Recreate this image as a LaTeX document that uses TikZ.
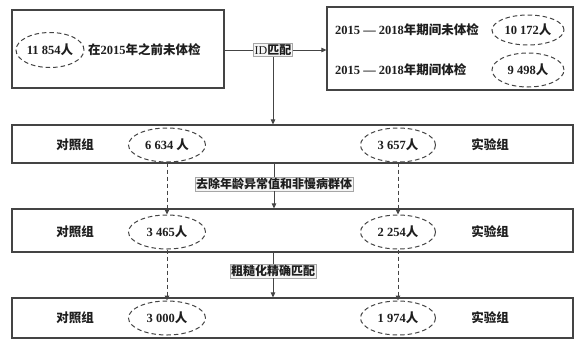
\documentclass[tikz,border=0pt]{standalone}
\usepackage{fontspec}
\setmainfont{Liberation Serif}
\newfontfamily\cjkfont{Noto Sans CJK SC}
\newcommand{\zhtxt}[1]{{\cjkfont\bfseries #1}}
\usetikzlibrary{shapes.geometric,arrows.meta}
\definecolor{linec}{HTML}{444444}
\definecolor{textc}{HTML}{1E1E1E}
\begin{document}
\begin{tikzpicture}[x=1pt,y=-1pt,
  font=\fontsize{12.5}{14}\selectfont\bfseries,
  every node/.style={text=textc},
  bigbox/.style={draw=linec,line width=1.2pt,rectangle,inner sep=0pt},
  oval/.style={draw=linec,dash pattern=on 4.5pt off 3pt,line width=1pt,ellipse,inner sep=0pt},
  tag/.style={draw=gray!70,fill=gray!8,line width=0.6pt,inner sep=1.2pt,font=\fontsize{12}{13}\selectfont},
  solidline/.style={draw=linec,line width=1pt},
  arr/.style={-{Triangle[length=5pt,width=4.5pt]}},
  dline/.style={draw=linec,line width=1pt,dash pattern=on 4pt off 3pt}
]
\useasboundingbox (0,0) rectangle (579,341);
\fill[white] (0,0) rectangle (579,341);
% top boxes
\node[bigbox,minimum width=212pt,minimum height=78pt] (b1) at (118,49) {};
\node[oval,minimum width=68pt,minimum height=35pt] (e1) at (50,50) {11 854\zhtxt{人}};
\node[anchor=west,inner sep=0pt] (t1) at (88,50) {\zhtxt{在}2015\zhtxt{年之前未体检}};
\node[bigbox,minimum width=246pt,minimum height=83pt] (b2) at (450,48.5) {};
\node[anchor=west,inner sep=0pt] (t2a) at (335,30) {2015 — 2018\zhtxt{年期间未体检}};
\node[oval,minimum width=72pt,minimum height=30pt] (e2a) at (528,30) {10 172\zhtxt{人}};
\node[anchor=west,inner sep=0pt] (t2b) at (335,70) {2015 — 2018\zhtxt{年期间体检}};
\node[oval,minimum width=72pt,minimum height=34pt] (e2b) at (528,70) {9 498\zhtxt{人}};
% rows
\node[bigbox,minimum width=561pt,minimum height=38pt] (r1) at (292.5,144) {};
\node[bigbox,minimum width=561pt,minimum height=43pt] (r2) at (292.5,230.5) {};
\node[bigbox,minimum width=561pt,minimum height=40pt] (r3) at (292.5,318) {};
% row 1 content
\node (c1) at (75,145) {\zhtxt{对照组}};
\node[oval,minimum width=77pt,minimum height=34pt] (a1) at (167,145) {6 634 \zhtxt{人}};
\node[oval,minimum width=75pt,minimum height=34pt] (s1) at (398,145) {3 657\zhtxt{人}};
\node (x1) at (490,145) {\zhtxt{实验组}};
% row 2 content
\node (c2) at (75,232) {\zhtxt{对照组}};
\node[oval,minimum width=77pt,minimum height=34pt] (a2) at (167,232) {3 465\zhtxt{人}};
\node[oval,minimum width=75pt,minimum height=34pt] (s2) at (398,232) {2 254\zhtxt{人}};
\node (x2) at (490,232) {\zhtxt{实验组}};
% row 3 content
\node (c3) at (75,318) {\zhtxt{对照组}};
\node[oval,minimum width=77pt,minimum height=34pt] (a3) at (167,318) {3 000\zhtxt{人}};
\node[oval,minimum width=75pt,minimum height=34pt] (s3) at (398,318) {1 974\zhtxt{人}};
\node (x3) at (490,318) {\zhtxt{实验组}};
% tags
\node[tag] (m1) at (273,50) {ID\zhtxt{匹配}};
\node[tag] (m2) at (274,184) {\zhtxt{去除年龄异常值和非慢病群体}};
\node[tag] (m3) at (273,271) {\zhtxt{粗糙化精确匹配}};
% connectors
\draw[solidline] (b1.east |- m1.west) -- (m1.west);
\draw[solidline,arr] (m1.east) -- (b2.west |- m1.east);
\draw[solidline,arr] (m1.south) -- (m1.south |- r1.north);
\draw[solidline] (m2.north |- r1.south) -- (m2.north);
\draw[solidline,arr] (m2.south) -- (m2.south |- r2.north);
\draw[solidline] (m3.north |- r2.south) -- (m3.north);
\draw[solidline,arr] (m3.south) -- (m3.south |- r3.north);
\draw[dline,arr] (a1.south) -- (a2.north);
\draw[dline,arr] (s1.south) -- (s2.north);
\draw[dline,arr] (a2.south) -- (a3.north);
\draw[dline,arr] (s2.south) -- (s3.north);
\end{tikzpicture}
\end{document}
